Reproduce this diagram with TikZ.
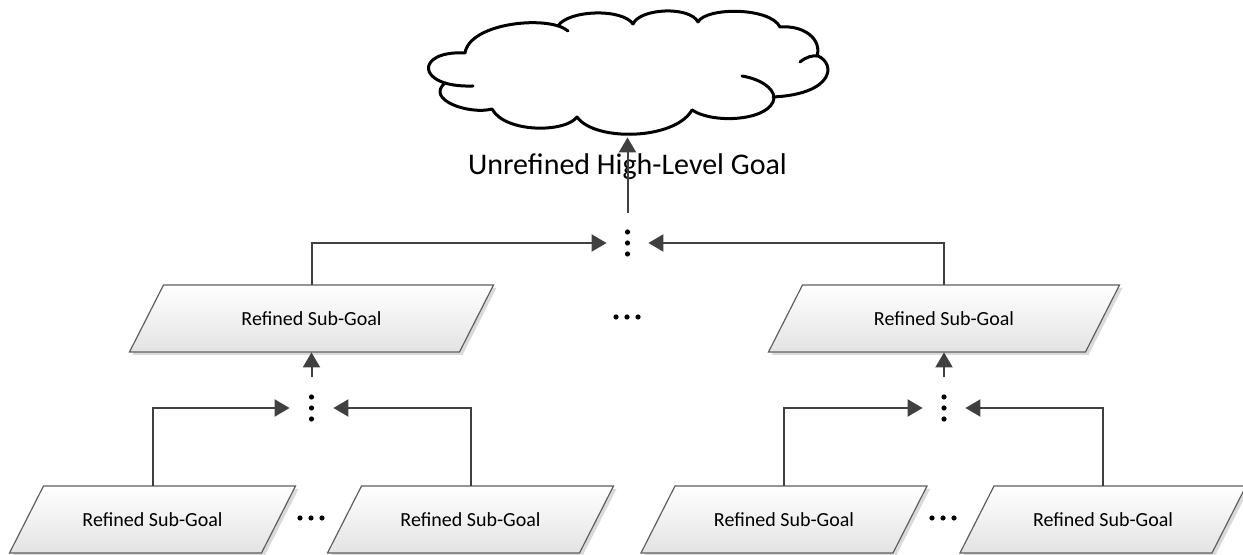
\documentclass[tikz,border=0pt]{standalone}
\usepackage{fontspec}
\setmainfont{Carlito}
\usetikzlibrary{arrows.meta,calc}
\definecolor{conn}{HTML}{404040}
\definecolor{boxline}{HTML}{5F5F5F}
\definecolor{boxshadow}{HTML}{DADADA}
\definecolor{boxbottom}{HTML}{E3E3E3}
\tikzset{
  connector/.style={draw=conn, line width=1pt, -{Triangle[length=7.5pt,width=8.5pt]}},
  sgtext/.style={font=\fontsize{10}{12}\selectfont, inner sep=0pt, minimum height=33.5pt},
  junction/.style={inner sep=0pt, minimum height=30pt},
  cloudline/.style={draw=black, line width=1.5pt, line cap=round, line join=round},
  dotmark/.style={fill=black},
}
% #1 name, #2 cx, #3 cy, #4 half width at mid height (px), #5 text
\newcommand\sgbox[5]{%
  \fill[boxshadow] (#2-#4-17+3,#3+36.5) -- (#2+#4-17+3,#3+36.5) -- (#2+#4+17+3,#3-30.5) -- (#2-#4+17+3,#3-30.5) -- cycle;
  \shade[top color=white, bottom color=boxbottom, draw=boxline, line width=0.6pt]
    (#2-#4-17,#3+33.5) -- (#2+#4-17,#3+33.5) -- (#2+#4+17,#3-33.5) -- (#2-#4+17,#3-33.5) -- cycle;
  \node[sgtext, minimum width=#4pt] (#1) at (#2,#3) {#5};
}
\begin{document}
\begin{tikzpicture}[x=0.5pt,y=-0.5pt]
\useasboundingbox (0,0) rectangle (1243,555);

% cloud
\node[inner sep=0pt, minimum width=199pt, minimum height=62.5pt] (cloud) at (627,74.5) {};
\draw[cloudline] (692,110) .. controls (675,140) and (595,142) .. (577,117)
  .. controls (565,133) and (505,133) .. (492,109)
  .. controls (470,115) and (425,100) .. (445,83);
\draw[cloudline] (473,86) .. controls (415,88) and (415,50) .. (465,53)
  .. controls (470,22) and (550,15) .. (568,31);
\draw[cloudline] (558,26) .. controls (568,10) and (622,8) .. (633,24)
  .. controls (640,8) and (690,6) .. (698,22)
  .. controls (706,7) and (770,7) .. (780,27)
  .. controls (805,25) and (822,40) .. (817,56);
\draw[cloudline] (800,62) .. controls (806,57) and (813,55) .. (818,56)
  .. controls (836,64) and (834,94) .. (773,97);
\draw[cloudline] (742,76) .. controls (760,79) and (774,88) .. (774,98)
  .. controls (772,120) and (715,125) .. (692,110);
\node[font=\fontsize{15}{18}\selectfont, anchor=base, inner sep=0pt] (cloudlabel) at (627.5,175) {Unrefined High-Level Goal};

% boxes
\sgbox{ml}{311.5}{318.5}{165}{Refined Sub-Goal}
\sgbox{mr}{944}{318.5}{158.5}{Refined Sub-Goal}
\sgbox{b1}{152.5}{519.5}{126}{Refined Sub-Goal}
\sgbox{b2}{470.5}{519.5}{126}{Refined Sub-Goal}
\sgbox{b3}{784}{519.5}{126}{Refined Sub-Goal}
\sgbox{b4}{1103}{519.5}{126}{Refined Sub-Goal}

% junctions (vertical dots)
\node[junction, minimum width=20.5pt] (j0) at (627.5,243) {};
\node[junction, minimum width=21.5pt, minimum height=31pt] (j1) at (311.5,408) {};
\node[junction, minimum width=21pt, minimum height=31pt] (j2) at (944,408) {};
\foreach \j in {j0,j1,j2}{
  \foreach \d in {-11,0,11}{
    \fill[dotmark] ($(\j.center)+(0,\d)$) circle[radius=2.6];
  }
}
% horizontal ellipses
\coordinate (e0) at (627,317);
\coordinate (e1) at (311,518);
\coordinate (e2) at (943,518);
\foreach \e in {e0,e1,e2}{
  \foreach \d in {-11,0,11}{
    \fill[dotmark] ($(\e)+(\d,0)$) circle[radius=2.6];
  }
}

% connectors
\draw[connector] (j0.north) -- (j0.north |- cloud.south);
\draw[connector] (ml.north) |- (j0.west);
\draw[connector] (mr.north) |- (j0.east);
\draw[connector] (j1.north) -- (j1.north |- ml.south);
\draw[connector] (b1.north) |- (j1.west);
\draw[connector] (b2.north) |- (j1.east);
\draw[connector] (j2.north) -- (j2.north |- mr.south);
\draw[connector] (b3.north) |- (j2.west);
\draw[connector] (b4.north) |- (j2.east);
\end{tikzpicture}
\end{document}
